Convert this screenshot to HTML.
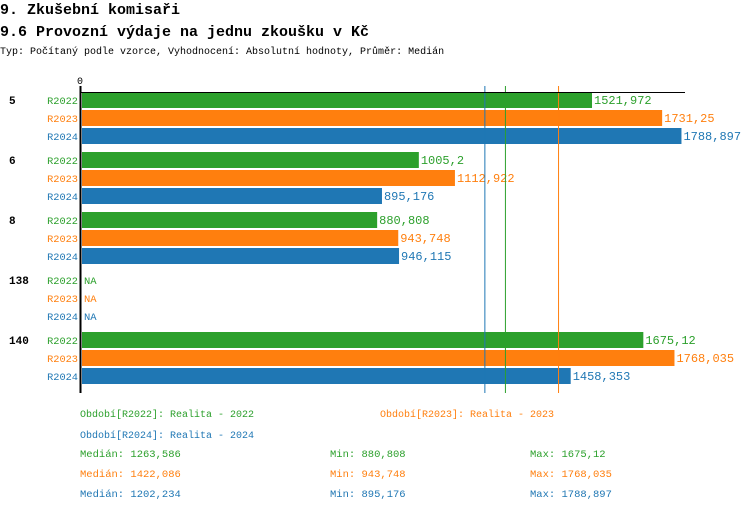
<!DOCTYPE html>
<html><head><meta charset="utf-8">
<style>
body{margin:0;background:#fff;width:750px;height:512px;overflow:hidden;font-family:"Liberation Mono","DejaVu Sans Mono",monospace;}
svg text{font-family:"Liberation Mono","DejaVu Sans Mono",monospace;}
</style></head>
<body>
<svg id="chart" width="750" height="512" xmlns="http://www.w3.org/2000/svg">
<text x="0" y="14" font-size="15" font-weight="bold" fill="#000">9. Zkušební komisaři</text>
<text x="0" y="36" font-size="15" font-weight="bold" fill="#000">9.6 Provozní výdaje na jednu zkoušku v Kč</text>
<text x="0" y="54" font-size="10" fill="#000">Typ: Počítaný podle vzorce, Vyhodnocení: Absolutní hodnoty, Průměr: Medián</text>
<g id="plot"></g>
</svg>
<script>
const categories = ["5","6","8","138","140"];
const seriesNames = ["R2022","R2023","R2024"];
const values2022 = [1521.972, 1005.2, 880.808, null, 1675.12];
const values2023 = [1731.25, 1112.922, 943.748, null, 1768.035];
const values2024 = [1788.897, 895.176, 946.115, null, 1458.353];
const labels2022 = ["1521,972","1005,2","880,808","NA","1675,12"];
const labels2023 = ["1731,25","1112,922","943,748","NA","1768,035"];
const labels2024 = ["1788,897","895,176","946,115","NA","1458,353"];
const medians = [1263.586, 1422.086, 1202.234];
const medianLabels = ["1263,586","1422,086","1202,234"];
const minLabels = ["880,808","943,748","895,176"];
const maxLabels = ["1675,12","1768,035","1788,897"];
const colors = ["#2ca02c","#ff7f0e","#1f77b4"];
const NS = "http://www.w3.org/2000/svg";
const g = document.getElementById("plot");
const x0 = 82, scale = 0.3351;
function xs(v){return x0 + v*scale;}
function yRow(ci, si){return 100 + ci*60 + si*18;}
function mk(tag, attrs, text){const e=document.createElementNS(NS,tag);for(const k in attrs)e.setAttribute(k,attrs[k]);if(text!==undefined)e.textContent=text;g.appendChild(e);return e;}
const vals=[values2022,values2023,values2024], labs=[labels2022,labels2023,labels2024];
categories.forEach((c,ci)=>{
  const t=mk("text",{x:9,y:yRow(ci,0)+4,"font-size":11,"font-weight":"bold",fill:"#000"},c);
  
  
  seriesNames.forEach((s,si)=>{
    const y=yRow(ci,si);
    const sl=mk("text",{x:78,y:y+4,"font-size":10.3,fill:colors[si],"text-anchor":"end"},s);
    
    
    const v=vals[si][ci];
    let end=x0;
    if(v!==null){
      const r=mk("rect",{x:x0,y:y-8,width:xs(v)-x0,height:16,fill:colors[si]});
      
      
      end=xs(v);
    }
    const txt=labs[si][ci];
    const vl=mk("text",{x:end+2,y:y+4,"font-size":txt==="NA"?10.5:12,fill:colors[si]},txt);
    
    
  });
});
medians.forEach((m,i)=>{
  const l=mk("line",{x1:xs(m),x2:xs(m),y1:86,y2:393,stroke:colors[i],"stroke-width":1});
  
  
});
const ax=mk("line",{x1:80.5,x2:80.5,y1:86,y2:393,stroke:"#000","stroke-width":2});


const tx=mk("line",{x1:80,x2:685,y1:92.5,y2:92.5,stroke:"#000","stroke-width":1});


const zl=mk("text",{x:80,y:84,"font-size":10,fill:"#000","text-anchor":"middle"},"0");


const legendTexts=["Období[R2022]: Realita - 2022","Období[R2023]: Realita - 2023","Období[R2024]: Realita - 2024"];
const legPos=[[80,417],[380,417],[80,438]];
legendTexts.forEach((t,i)=>{
  const e=mk("text",{x:legPos[i][0],y:legPos[i][1],"font-size":10,fill:colors[i]},t);
  
  
});
for(let i=0;i<3;i++){
  const y=457+i*20;
  const a=mk("text",{x:80,y:y,"font-size":10.5,fill:colors[i]},"Medián: "+medianLabels[i]);
  
  
  const b=mk("text",{x:330,y:y,"font-size":10.5,fill:colors[i]},"Min: "+minLabels[i]);
  
  
  const c=mk("text",{x:530,y:y,"font-size":10.5,fill:colors[i]},"Max: "+maxLabels[i]);
  
  
}
</script>
</body></html>
